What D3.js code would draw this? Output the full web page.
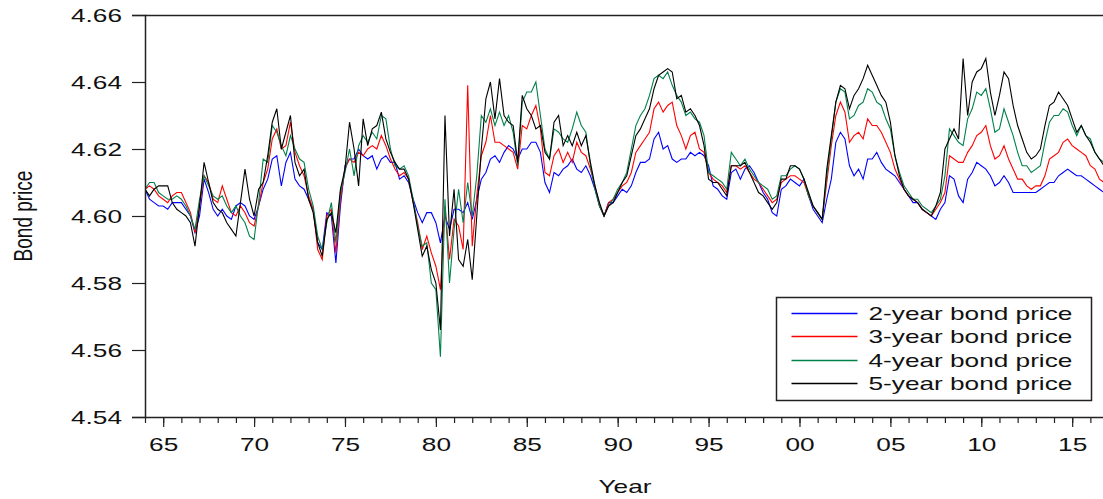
<!DOCTYPE html>
<html>
<head>
<meta charset="utf-8">
<script src="https://cdn.jsdelivr.net/npm/d3@7"></script>
<style>
  html, body { margin: 0; padding: 0; background: #fff; }
  svg { display: block; font-family: "Liberation Sans", Arial, sans-serif; }
</style>
</head>
<body>
<div class="chart"></div>
<script>
// quarterly readings, 1964Q1 .. 2016Q4
var p5 = [
  4.608,4.606,4.608,4.609, 4.609,4.609,4.604,4.602, 4.601,4.600,4.598,4.591, 4.603,4.616,4.610,4.604,
  4.602,4.601,4.598,4.596, 4.594,4.604,4.614,4.605, 4.600,4.608,4.610,4.618, 4.628,4.632,4.620,4.625,
  4.630,4.616,4.612,4.614, 4.605,4.601,4.592,4.588, 4.599,4.601,4.595,4.608, 4.614,4.628,4.620,4.609,
  4.629,4.621,4.626,4.627, 4.631,4.623,4.619,4.616, 4.614,4.614,4.611,4.604, 4.596,4.588,4.591,4.584,
  4.580,4.566,4.630,4.594, 4.608,4.587,4.585,4.593, 4.581,4.600,4.620,4.635, 4.640,4.629,4.641,4.630,
  4.628,4.627,4.616,4.636, 4.632,4.630,4.626,4.627, 4.619,4.617,4.628,4.630, 4.621,4.624,4.621,4.625,
  4.621,4.624,4.616,4.609, 4.604,4.600,4.603,4.604, 4.607,4.610,4.612,4.618, 4.624,4.626,4.629,4.632,
  4.638,4.642,4.643,4.644, 4.643,4.635,4.636,4.631, 4.632,4.630,4.627,4.621, 4.611,4.610,4.610,4.608,
  4.606,4.615,4.615,4.615, 4.616,4.613,4.610,4.607, 4.606,4.604,4.602,4.604, 4.611,4.611,4.615,4.615,
  4.614,4.611,4.607,4.603, 4.601,4.599,4.614,4.624, 4.634,4.639,4.638,4.632, 4.636,4.638,4.641,4.645,
  4.642,4.639,4.636,4.634, 4.628,4.618,4.612,4.608, 4.606,4.605,4.604,4.602, 4.601,4.600,4.603,4.607,
  4.620,4.623,4.626,4.623, 4.647,4.630,4.640,4.643, 4.644,4.647,4.637,4.630, 4.636,4.643,4.641,4.633,
  4.627,4.623,4.619,4.617, 4.618,4.620,4.627,4.633, 4.634,4.637,4.635,4.633, 4.629,4.625,4.627,4.624,
  4.622,4.619,4.617,4.615
];
var p4 = [
  4.608,4.610,4.610,4.607, 4.606,4.605,4.605,4.606, 4.605,4.603,4.600,4.596, 4.605,4.612,4.609,4.606,
  4.605,4.606,4.603,4.601, 4.603,4.600,4.598,4.594, 4.593,4.604,4.617,4.616, 4.627,4.625,4.621,4.618,
  4.624,4.620,4.617,4.616, 4.608,4.603,4.594,4.590, 4.598,4.604,4.592,4.607, 4.613,4.620,4.612,4.621,
  4.624,4.622,4.625,4.623, 4.630,4.629,4.620,4.615, 4.614,4.615,4.612,4.605, 4.597,4.591,4.592,4.580,
  4.578,4.558,4.605,4.580, 4.596,4.608,4.598,4.610, 4.600,4.612,4.630,4.628, 4.632,4.627,4.631,4.627,
  4.630,4.625,4.615,4.634, 4.637,4.637,4.640,4.630, 4.620,4.617,4.626,4.625, 4.623,4.622,4.626,4.631,
  4.627,4.625,4.615,4.608, 4.603,4.600,4.603,4.605, 4.608,4.610,4.613,4.620, 4.627,4.630,4.632,4.636,
  4.641,4.642,4.641,4.643, 4.639,4.636,4.634,4.630, 4.631,4.629,4.628,4.624, 4.613,4.612,4.611,4.610,
  4.608,4.619,4.617,4.615, 4.617,4.614,4.612,4.610, 4.609,4.608,4.605,4.606, 4.612,4.612,4.614,4.615,
  4.614,4.611,4.606,4.603, 4.601,4.599,4.612,4.623, 4.634,4.638,4.637,4.629, 4.630,4.633,4.634,4.638,
  4.637,4.634,4.633,4.629, 4.626,4.618,4.613,4.609, 4.607,4.605,4.605,4.603, 4.602,4.601,4.603,4.605,
  4.612,4.626,4.624,4.622, 4.621,4.629,4.632,4.637, 4.636,4.638,4.632,4.625, 4.626,4.632,4.628,4.624,
  4.619,4.615,4.615,4.613, 4.614,4.615,4.622,4.628, 4.630,4.630,4.632,4.631, 4.627,4.624,4.627,4.624,
  4.623,4.619,4.617,4.616
];
var p3 = [
  4.608,4.609,4.608,4.606, 4.605,4.604,4.606,4.607, 4.607,4.604,4.601,4.595, 4.603,4.612,4.610,4.605,
  4.604,4.609,4.605,4.601, 4.600,4.603,4.601,4.598, 4.597,4.603,4.610,4.614, 4.623,4.626,4.620,4.621,
  4.628,4.619,4.615,4.612, 4.606,4.602,4.590,4.587, 4.600,4.602,4.589,4.605, 4.614,4.617,4.616,4.619,
  4.618,4.620,4.621,4.620, 4.624,4.621,4.617,4.614, 4.612,4.613,4.611,4.604, 4.598,4.590,4.594,4.589,
  4.585,4.578,4.603,4.587, 4.599,4.597,4.590,4.639, 4.591,4.606,4.618,4.622, 4.630,4.622,4.622,4.621,
  4.620,4.619,4.614,4.627, 4.626,4.630,4.633,4.626, 4.613,4.612,4.618,4.620, 4.616,4.619,4.616,4.622,
  4.619,4.618,4.614,4.609, 4.603,4.600,4.604,4.605, 4.607,4.609,4.610,4.613, 4.619,4.621,4.623,4.625,
  4.632,4.634,4.631,4.633, 4.634,4.627,4.624,4.620, 4.624,4.625,4.620,4.619, 4.613,4.611,4.610,4.609,
  4.607,4.615,4.615,4.614, 4.615,4.613,4.611,4.610, 4.608,4.606,4.604,4.605, 4.610,4.611,4.612,4.612,
  4.611,4.610,4.606,4.603, 4.601,4.599,4.610,4.621, 4.630,4.634,4.631,4.622, 4.624,4.625,4.623,4.629,
  4.627,4.627,4.625,4.622, 4.619,4.614,4.611,4.608, 4.606,4.605,4.604,4.602, 4.601,4.600,4.602,4.604,
  4.607,4.618,4.617,4.616, 4.616,4.619,4.621,4.624, 4.625,4.627,4.621,4.617, 4.618,4.621,4.617,4.614,
  4.611,4.611,4.609,4.608, 4.609,4.609,4.612,4.617, 4.618,4.619,4.622,4.623, 4.621,4.620,4.619,4.618,
  4.615,4.614,4.611,4.610
];
var p2 = [
  4.608,4.605,4.604,4.603, 4.603,4.602,4.604,4.604, 4.604,4.602,4.600,4.595, 4.600,4.611,4.607,4.602,
  4.600,4.602,4.600,4.599, 4.603,4.604,4.603,4.600, 4.599,4.603,4.608,4.611, 4.617,4.618,4.609,4.616,
  4.619,4.611,4.609,4.608, 4.605,4.602,4.592,4.590, 4.601,4.600,4.586,4.603, 4.615,4.617,4.617,4.620,
  4.618,4.617,4.618,4.614, 4.617,4.618,4.616,4.616, 4.611,4.612,4.610,4.605, 4.601,4.598,4.601,4.601,
  4.598,4.592,4.600,4.596, 4.602,4.602,4.601,4.604, 4.599,4.605,4.611,4.613, 4.617,4.618,4.616,4.619,
  4.621,4.620,4.617,4.620, 4.620,4.622,4.622,4.619, 4.610,4.607,4.613,4.612, 4.614,4.615,4.617,4.614,
  4.613,4.615,4.612,4.608, 4.603,4.600,4.604,4.604, 4.606,4.608,4.607,4.609, 4.613,4.616,4.616,4.617,
  4.623,4.625,4.620,4.621, 4.617,4.616,4.617,4.617, 4.619,4.618,4.619,4.618, 4.615,4.609,4.608,4.606,
  4.605,4.613,4.614,4.611, 4.614,4.615,4.613,4.610, 4.607,4.605,4.601,4.600, 4.608,4.609,4.611,4.610,
  4.609,4.611,4.606,4.602, 4.600,4.598,4.605,4.611, 4.622,4.625,4.623,4.615, 4.612,4.614,4.611,4.617,
  4.617,4.619,4.616,4.614, 4.613,4.612,4.610,4.608, 4.606,4.604,4.604,4.602, 4.601,4.600,4.599,4.602,
  4.604,4.612,4.611,4.606, 4.604,4.611,4.613,4.616, 4.615,4.614,4.612,4.609, 4.610,4.612,4.610,4.607,
  4.607,4.607,4.607,4.607, 4.607,4.608,4.609,4.610, 4.610,4.612,4.613,4.614, 4.613,4.612,4.612,4.611,
  4.610,4.609,4.608,4.607
];
var dates = d3.range(p2.length).map(function(i){ return 1964 + i/4; });

var seriesNames = ["2-year bond price","3-year bond price","4-year bond price","5-year bond price"];
var seriesColors = ["#0000ff","#ff0000","#00804a","#000000"];
var series = [p2, p3, p4, p5];

var yTicks = [4.54, 4.56, 4.58, 4.60, 4.62, 4.64, 4.66];
var xMajor = [1965,1970,1975,1980,1985,1990,1995,2000,2005,2010,2015];
var xMinor = d3.range(1964, 2017);

var W = 1103, H = 499;
var mLeft = 145, mTop = 15, mBottom = 417, mRight = 1104;
var SX = 1.38; // glyphs in the reference are stretched sideways

var svg = d3.select(".chart").append("svg")
  .attr("width", W).attr("height", H);

var x = d3.scaleLinear().domain([1964, 2016.75]).range([mLeft, mRight]);
var y = d3.scaleLinear().domain([4.54, 4.66]).range([mBottom, mTop]);

svg.append("defs").append("clipPath").attr("id","plot")
  .append("rect").attr("x", mLeft).attr("y", mTop)
  .attr("width", mRight-mLeft).attr("height", mBottom-mTop);

// lines
var line = d3.line()
  .x(function(d,i){ return x(dates[i]); })
  .y(function(d){ return y(d); });

svg.append("g").attr("clip-path","url(#plot)")
  .selectAll("path").data(series).enter().append("path")
  .attr("d", line)
  .attr("fill","none")
  .attr("stroke", function(d,i){ return seriesColors[i]; })
  .attr("stroke-width", 1.1);

// frame
svg.append("line").attr("x1", mLeft).attr("x2", W).attr("y1", mTop+0.5).attr("y2", mTop+0.5)
  .attr("stroke","#222").attr("stroke-width",1.5);

// y axis
var yAxis = svg.append("g").attr("transform","translate("+mLeft+",0)")
  .call(d3.axisLeft(y).tickValues(yTicks).tickSize(13).tickFormat(d3.format(".2f")));
yAxis.select(".domain").attr("stroke","#222").attr("stroke-width",1.5);
yAxis.selectAll(".tick line").attr("stroke","#222").attr("stroke-width",1.2);
yAxis.selectAll(".tick text")
  .attr("x", -23/SX).attr("dy","0.36em")
  .attr("transform","scale("+SX+",1)")
  .style("font-size","19px").attr("fill","#111");

// x axis, minor then major
var xMin = svg.append("g").attr("transform","translate(0,"+mBottom+")")
  .call(d3.axisBottom(x).tickValues(xMinor).tickSize(6).tickFormat(""));
xMin.select(".domain").attr("stroke","#222").attr("stroke-width",1.5).attr("d","M"+mLeft+",0.5H"+W);
xMin.selectAll(".tick line").attr("stroke","#222").attr("stroke-width",1.2);

var xMaj = svg.append("g").attr("transform","translate(0,"+mBottom+")")
  .call(d3.axisBottom(x).tickValues(xMajor).tickSize(10)
    .tickFormat(function(d){ return ("0" + (d % 100)).slice(-2); }));
xMaj.select(".domain").remove();
xMaj.selectAll(".tick line").attr("stroke","#222").attr("stroke-width",1.2);
xMaj.selectAll(".tick text")
  .attr("y", 34).attr("dy", 0)
  .attr("transform","scale("+SX+",1)")
  .style("font-size","19px").attr("fill","#111");

// axis titles
svg.append("text")
  .attr("transform","translate(625,493) scale("+SX+",1)")
  .attr("text-anchor","middle")
  .style("font-size","19px").attr("fill","#111")
  .text("Year");

svg.append("text")
  .attr("transform","translate(23,216) scale("+SX+",1) rotate(-90)")
  .attr("text-anchor","middle").attr("dy","0.36em")
  .style("font-size","19px").attr("fill","#111")
  .text("Bond price");

// legend
var legend = svg.append("g").attr("transform","translate(776.5,297.5)");
legend.append("rect").attr("width",315).attr("height",103)
  .attr("fill","#fff").attr("stroke","#222").attr("stroke-width",1.5);
var rows = legend.selectAll("g.row").data(seriesNames).enter().append("g")
  .attr("class","row")
  .attr("transform", function(d,i){ return "translate(0,"+(16 + Math.round(i*23.3))+")"; });
rows.append("line").attr("x1",15).attr("x2",81)
  .attr("stroke", function(d,i){ return seriesColors[i]; })
  .attr("stroke-width",1.3);
rows.append("text")
  .attr("transform","translate(92,0) scale("+SX+",1)")
  .attr("dy","0.36em")
  .style("font-size","19px").attr("fill","#111")
  .text(function(d){ return d; });
</script>
</body>
</html>
